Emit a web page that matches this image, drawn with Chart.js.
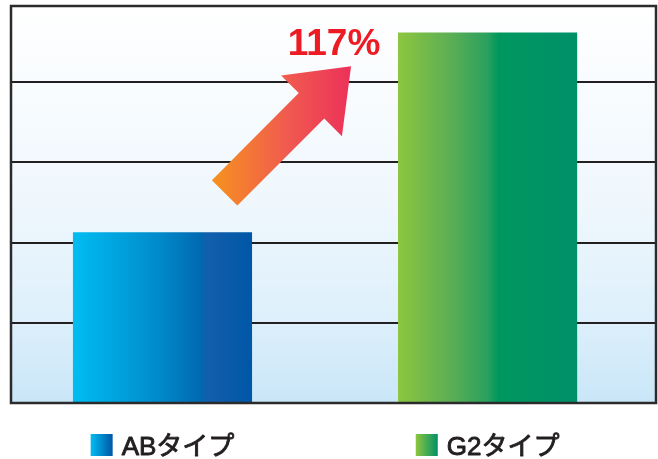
<!DOCTYPE html>
<html lang="ja">
<head>
  <meta charset="UTF-8" />
  <title>ABタイプ / G2タイプ</title>
  <script src="https://cdn.jsdelivr.net/npm/chart.js"></script>
  <style>
    body {
      margin: 0;
      background-color: #ffffff;
    }
    .chart-box {
      width: 658px;
      height: 459px;
    }
  </style>
</head>
<body>
  <div class="chart-box">
    <canvas id="myChart" width="658" height="459"></canvas>
  </div>

  <script>
    // data
    const categories = ['ABタイプ', 'G2タイプ'];
    const values = [42.6, 92.4];
    const yTicks = [0, 20, 40, 60, 80];
    const yMax = 99;

    // gradient stops for each bar (left -> right)
    const barStops = [
      [[0, '#00bdf2'], [0.5, '#0088c9'], [0.72, '#0068b0'], [0.74, '#135fac'], [1, '#0057a7']],
      [[0, '#8dc63f'], [0.3, '#5aae55'], [0.5, '#2aa05e'], [0.56, '#00975f'], [1, '#009068']]
    ];
    const barPct = 0.551;

    function barGradient(chart, i) {
      const x = chart.scales.x;
      const fallback = barStops[i][2][1];
      if (!x || !chart.chartArea) return fallback;
      const c = x.getPixelForValue(i);
      const half = (x.getPixelForValue(1) - x.getPixelForValue(0)) * barPct / 2;
      if (!isFinite(c) || !isFinite(half)) return fallback;
      const g = chart.ctx.createLinearGradient(c - half, 0, c + half, 0);
      barStops[i].forEach(s => g.addColorStop(s[0], s[1]));
      return g;
    }

    // light blue wash behind the plot + frame
    const plotBackground = {
      id: 'plotBackground',
      beforeDraw(chart) {
        const { ctx, chartArea: a } = chart;
        const g = ctx.createLinearGradient(0, a.top, 0, a.bottom);
        g.addColorStop(0, '#ffffff');
        g.addColorStop(0.5, '#eff7fd');
        g.addColorStop(0.78, '#def0fb');
        g.addColorStop(1, '#c9e6f8');
        ctx.save();
        ctx.fillStyle = g;
        ctx.fillRect(a.left, a.top, a.right - a.left, a.bottom - a.top);
        ctx.restore();
      },
      afterDatasetsDraw(chart) {
        const { ctx, chartArea: a } = chart;
        ctx.save();
        ctx.strokeStyle = '#2b2b2b';
        ctx.lineWidth = 2.5;
        ctx.strokeRect(a.left, a.top, a.right - a.left, a.bottom - a.top);
        ctx.restore();
      }
    };

    // growth arrow and percentage
    const growthArrow = {
      id: 'growthArrow',
      afterDraw(chart) {
        const { ctx, scales: { x, y } } = chart;
        const tx = x.getPixelForValue(0.191), ty = y.getPixelForValue(52.4);
        const hx = x.getPixelForValue(0.58), hy = y.getPixelForValue(84.0);
        const len = Math.hypot(hx - tx, hy - ty);
        const ang = Math.atan2(hy - ty, hx - tx);
        const shaft = 18, head = 43, headLen = 56;

        const g = ctx.createLinearGradient(tx - 15, 0, hx, 0);
        g.addColorStop(0, '#f7941d');
        g.addColorStop(0.55, '#f05a4f');
        g.addColorStop(1, '#ec3159');

        ctx.save();
        ctx.translate(tx, ty);
        ctx.rotate(ang);
        ctx.beginPath();
        ctx.moveTo(0, -shaft);
        ctx.lineTo(len - headLen, -shaft);
        ctx.lineTo(len - headLen, -head);
        ctx.lineTo(len, 0);
        ctx.lineTo(len - headLen, head);
        ctx.lineTo(len - headLen, shaft);
        ctx.lineTo(0, shaft);
        ctx.closePath();
        ctx.setTransform(1, 0, 0, 1, 0, 0);
        ctx.fillStyle = g;
        ctx.fill();

        const pct = Math.round((values[1] / values[0] - 1) * 100);
        ctx.fillStyle = '#ed1c24';
        ctx.font = 'bold 37px "Liberation Sans", Arial, sans-serif';
        ctx.textAlign = 'center';
        ctx.textBaseline = 'alphabetic';
        ctx.fillText(pct + '%', hx - 17, hy - 11);
        ctx.restore();
      }
    };

    // legend entries under each bar
    const barLegend = {
      id: 'barLegend',
      afterDraw(chart) {
        const { ctx, scales: { x }, chartArea: a } = chart;
        const box = 22, gap = 9;
        const top = a.bottom + 31;
        ctx.save();
        ctx.font = '26px "Liberation Sans", "Noto Sans CJK JP", sans-serif';
        ctx.textBaseline = 'alphabetic';
        ctx.lineJoin = 'round';
        categories.forEach((label, i) => {
          const w = ctx.measureText(label).width;
          const c = x.getPixelForValue(i);
          const left = c - (box + gap + w) / 2;
          const g = ctx.createLinearGradient(left, 0, left + box, 0);
          g.addColorStop(0, barStops[i][0][1]);
          g.addColorStop(1, barStops[i][barStops[i].length - 1][1]);
          ctx.fillStyle = g;
          ctx.fillRect(left, top, box, box);
          // slightly heavier than the regular weight
          ctx.fillStyle = '#231f20';
          ctx.strokeStyle = '#231f20';
          ctx.lineWidth = 0.9;
          ctx.fillText(label, left + box + gap, top + box - 1);
          ctx.strokeText(label, left + box + gap, top + box - 1);
        });
        ctx.restore();
      }
    };

    const ctx = document.getElementById('myChart').getContext('2d');
    const myChart = new Chart(ctx, {
      type: 'bar',
      data: {
        labels: categories,
        datasets: [{
          data: values.map((v, i) => ({ x: i, y: v })),
          backgroundColor: c => barGradient(c.chart, c.dataIndex),
          borderWidth: 0,
          barPercentage: barPct,
          categoryPercentage: 1
        }]
      },
      options: {
        responsive: false,
        animation: false,
        layout: {
          padding: { left: 11, top: 6, right: 2, bottom: 56 }
        },
        plugins: {
          legend: { display: false },
          tooltip: { enabled: false }
        },
        scales: {
          x: {
            type: 'linear',
            min: -0.466,
            max: 1.518,
            offset: false,
            afterBuildTicks: axis => {
              axis.ticks = categories.map((c, i) => ({ value: i }));
            },
            display: false
          },
          y: {
            min: 0,
            max: yMax,
            afterBuildTicks: axis => {
              axis.ticks = yTicks.concat([yMax]).map(v => ({ value: v }));
            },
            ticks: { display: false },
            border: { display: false },
            grid: {
              color: '#231f20',
              lineWidth: 2,
              drawTicks: false
            }
          }
        }
      },
      plugins: [plotBackground, growthArrow, barLegend]
    });
  </script>
</body>
</html>
